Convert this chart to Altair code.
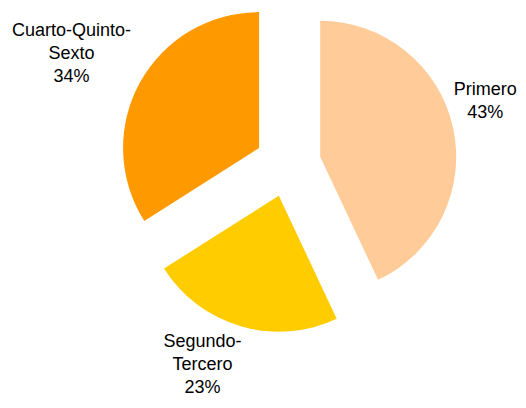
import altair as alt
import pandas as pd

categories = ["Primero", "Segundo-Tercero", "Cuarto-Quinto-Sexto"]
label_names = ["Primero", "Segundo-\nTercero", "Cuarto-Quinto-\nSexto"]
values = [43, 23, 34]
colors = ["#FFCC99", "#FFCC00", "#FF9900"]
order = [0, 1, 2]

df = pd.DataFrame({"category": categories, "name": label_names, "value": values, "order": order})

W, H = 510, 392
CX, CY = 280, 156      # pie centre in plot coordinates
R = 136                # radius
EXPLODE = 33           # explosion distance
LABEL_T = 180          # label anchor distance
CHAR_W = 8.8           # approx character width
LINE_H = 23

base = (
    alt.Chart(df)
    .transform_joinaggregate(total="sum(value)")
    .transform_window(cum="sum(value)", sort=[alt.SortField("order")], frame=[None, 0])
    .transform_calculate(
        start="2*PI*(datum.cum - datum.value)/datum.total",
        end="2*PI*datum.cum/datum.total",
        pct="round(100*datum.value/datum.total) + '%'",
    )
    .transform_calculate(mid="(datum.start + datum.end)/2", txt="datum.name + '\\n' + datum.pct")
    .transform_calculate(
        cx=f"{CX} + {EXPLODE}*sin(datum.mid)",
        cy=f"{CY} - {EXPLODE}*cos(datum.mid)",
        nl="length(split(datum.txt, '\\n'))",
        ml="max(length(split(datum.txt, '\\n')[0]), length(split(datum.txt, '\\n')[1]), length(split(datum.txt, '\\n')) > 2 ? length(split(datum.txt, '\\n')[2]) : 0)",
    )
    .transform_calculate(
        lx0=f"{CX} + {LABEL_T}*sin(datum.mid) + (sin(datum.mid) >= 0 ? 1 : -1)*datum.ml*{CHAR_W}/2",
        lyc0=f"{CY} - {LABEL_T}*cos(datum.mid) + (cos(datum.mid) >= 0 ? -{LINE_H} : datum.nl*{LINE_H}/2)",
    )
    .transform_calculate(
        lx=f"max(datum.ml*{CHAR_W}/2 + 2, min(datum.lx0, {W} - datum.ml*{CHAR_W}/2 - 2))",
        lyc=f"min(datum.lyc0, {H} - 12 - (datum.nl - 1)*{LINE_H}/2)",
    )
    .transform_calculate(ly=f"datum.lyc - (datum.nl - 1)*{LINE_H}/2")
)

arcs = base.mark_arc(outerRadius=R, stroke=None).encode(
    x=alt.X("cx:Q", scale=None),
    y=alt.Y("cy:Q", scale=None),
    theta=alt.Theta("start:Q", scale=None),
    theta2="end:Q",
    color=alt.Color("category:N", scale=alt.Scale(domain=categories, range=colors), legend=None),
)

labels = base.mark_text(
    font="Liberation Sans", fontSize=18, lineHeight=LINE_H, lineBreak="\n",
    align="center", baseline="middle", color="#000000",
).encode(
    x=alt.X("lx:Q", scale=None),
    y=alt.Y("ly:Q", scale=None),
    text="txt:N",
)

chart = alt.layer(arcs, labels).properties(
    width=W, height=H, autosize=alt.AutoSizeParams(type="none"), padding=0,
).configure_view(stroke=None)

chart.save("out.html", embed_options={"renderer": "svg", "actions": False})
